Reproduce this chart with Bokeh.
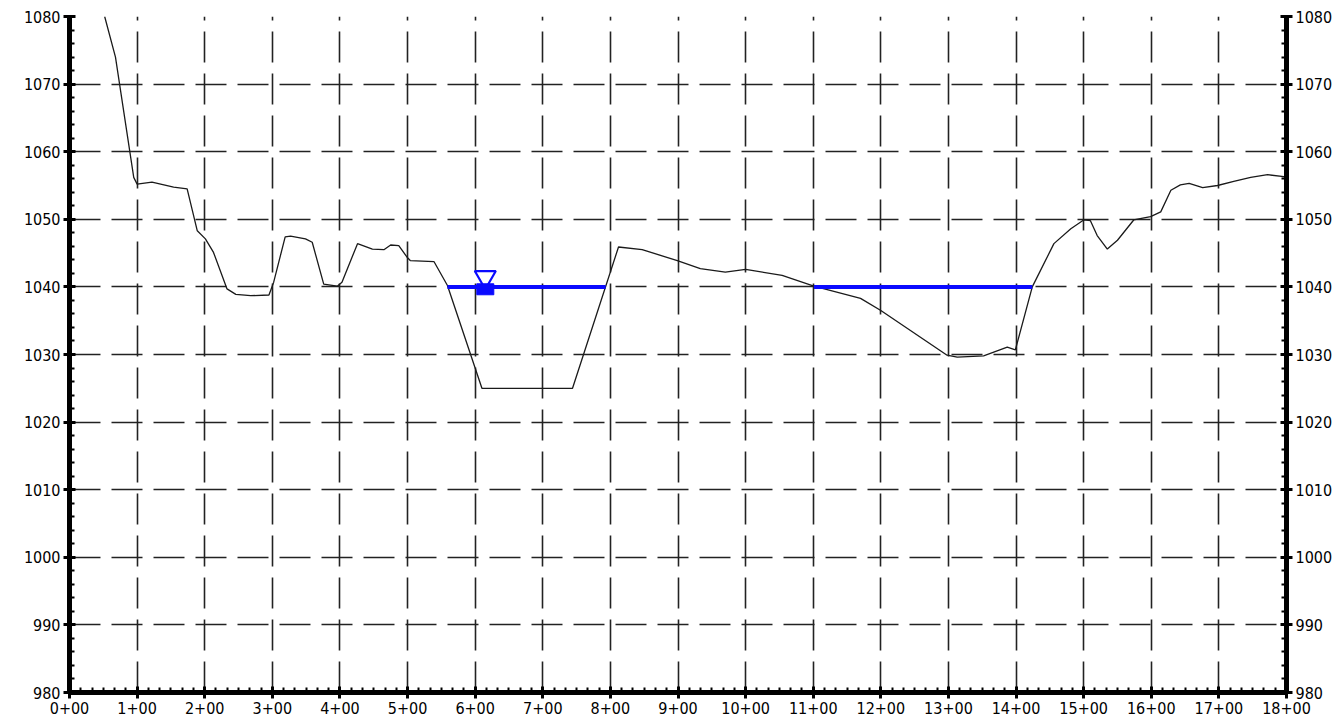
from bokeh.plotting import figure
from bokeh.models import Range1d, FixedTicker, LinearAxis
from bokeh.embed import file_html
from bokeh.resources import INLINE

# ---- data ----
stations = [52, 68, 95, 100, 122, 154, 174, 189, 201, 213, 233, 246, 268, 295,
            302, 319, 327, 349, 359, 376, 396, 403, 426, 448, 465, 475, 487,
            500, 504, 539, 559, 610, 744, 812, 847, 899, 933, 970, 1000, 1054,
            1101, 1170, 1200, 1298, 1313, 1352, 1387, 1399, 1424, 1456, 1481,
            1500, 1510, 1520, 1535, 1550, 1574, 1599, 1614, 1629, 1643, 1656,
            1676, 1698, 1722, 1747, 1772, 1796, 1800]
elevations = [1080, 1074, 1056.2, 1055.2, 1055.5, 1054.75, 1054.5, 1048.3,
              1047.1, 1045.1, 1039.7, 1038.9, 1038.7, 1038.8, 1040.7, 1047.4,
              1047.5, 1047.1, 1046.6, 1040.4, 1040.1, 1040.7, 1046.4, 1045.6,
              1045.5, 1046.2, 1046.1, 1044.3, 1043.9, 1043.75, 1040.2, 1025.0,
              1025.0, 1045.9, 1045.5, 1043.9, 1042.7, 1042.2, 1042.6, 1041.7,
              1040.1, 1038.3, 1036.5, 1029.9, 1029.6, 1029.8, 1031.1, 1030.7,
              1040.0, 1046.4, 1048.6, 1049.9, 1049.8, 1047.6, 1045.6, 1046.9,
              1049.9, 1050.4, 1051.1, 1054.3, 1055.1, 1055.3, 1054.7, 1055.0,
              1055.6, 1056.2, 1056.6, 1056.3, 1056.2]

ws_elev = 1040
ws_start = [559, 1101]
ws_end = [793, 1424]
symbol_station = 615

x_ticks = list(range(0, 1801, 100))
x_labels = [f"{t // 100}+00" for t in x_ticks]
y_ticks = list(range(980, 1081, 10))
y_labels = [str(t) for t in y_ticks]

x_minor = [i * 100 / 6 for i in range(0, 18 * 6 + 1)]
y_minor = list(range(980, 1081, 2))

FONT = "DejaVu Sans Condensed"

p = figure(frame_width=1217, frame_height=676,
           min_border_left=69, min_border_right=53,
           min_border_top=16, min_border_bottom=32,
           x_range=Range1d(0, 1800), y_range=Range1d(980, 1080),
           output_backend="svg", toolbar_location=None)
p.outline_line_color = None
p.background_fill_color = "white"
p.border_fill_color = "white"

xt = FixedTicker(ticks=x_ticks, minor_ticks=x_minor)
yt = FixedTicker(ticks=y_ticks, minor_ticks=y_minor)
p.xaxis[0].ticker = xt
p.yaxis[0].ticker = yt
p.xaxis[0].major_label_overrides = {t: l for t, l in zip(x_ticks, x_labels)}

ry = LinearAxis(ticker=yt)
p.add_layout(ry, "right")

for ax in [p.xaxis[0], p.yaxis[0], ry]:
    ax.axis_line_width = 5
    ax.axis_line_color = "black"
    ax.major_tick_line_width = 3
    ax.major_tick_line_color = "black"
    ax.major_tick_in = 6
    ax.major_tick_out = 6
    ax.minor_tick_line_width = 2
    ax.minor_tick_line_color = "black"
    ax.minor_tick_in = 5
    ax.minor_tick_out = 0
    ax.major_label_text_font = FONT
    ax.major_label_text_font_size = "16px"
    ax.major_label_text_color = "black"
    ax.major_label_standoff = 3

# grids: dashed
p.xgrid.ticker = xt
p.ygrid.ticker = yt
for g in [p.xgrid[0], p.ygrid[0]]:
    g.grid_line_color = "#222222"
    g.grid_line_width = 1.6
    g.grid_line_dash = "31 11"
    g.grid_line_alpha = 1.0

# ground profile
p.line(stations, elevations, line_color="#1a1a1a", line_width=1.3)

# water surface
p.segment(x0=ws_start, y0=[ws_elev] * len(ws_start),
          x1=ws_end, y1=[ws_elev] * len(ws_end),
          line_color="#0a0aff", line_width=4)

# water surface symbol
p.scatter([symbol_station], [ws_elev + 1.45], marker="inverted_triangle",
          size=21, fill_color=None, line_color="#0a0aff", line_width=2.2)
p.rect([symbol_station], [ws_elev - 0.35], width=17, height=11,
       width_units="screen", height_units="screen",
       fill_color="#0a0aff", line_color="#0a0aff")

open("out.html", "w").write(file_html(p, INLINE))
